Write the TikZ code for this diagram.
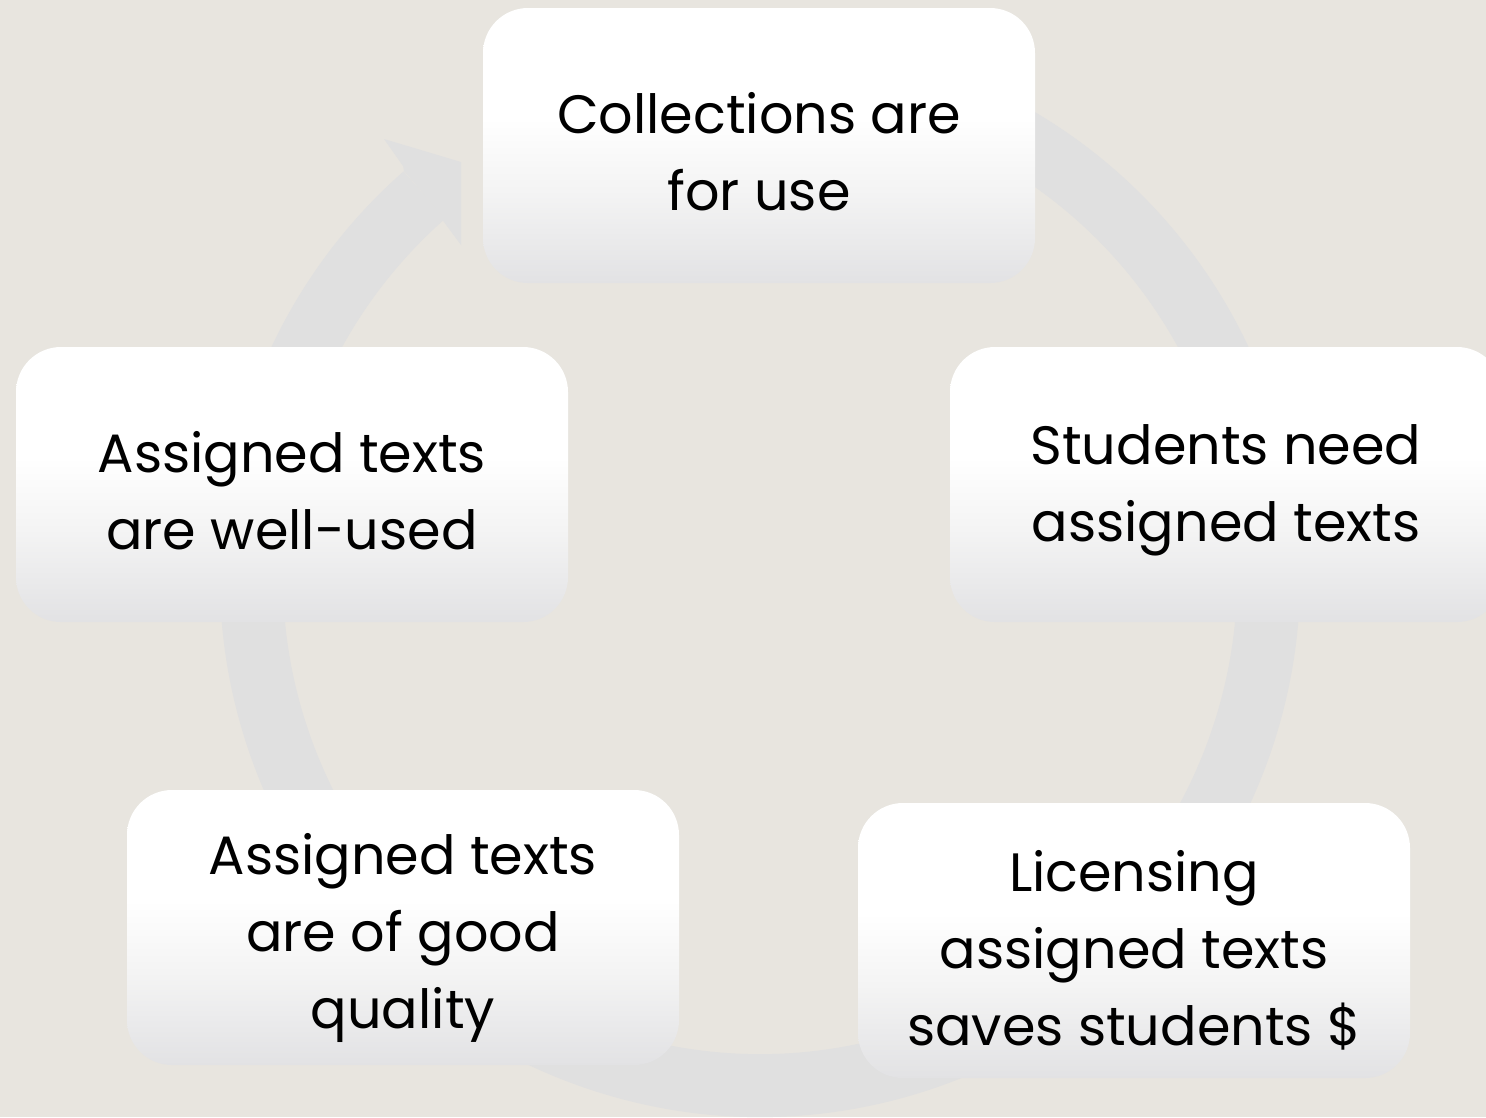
\documentclass[tikz,border=0pt]{standalone}
\usepackage{fontspec}
\setmainfont{Poppins}
\definecolor{bg}{HTML}{E8E5DF}
\definecolor{ringc}{HTML}{E0E0E0}
\definecolor{boxbot}{HTML}{E2E2E4}
\definecolor{boxmid}{HTML}{F4F4F4}
\pgfdeclareverticalshading{boxshade}{100bp}{color(0bp)=(boxbot); color(25bp)=(boxbot); color(42bp)=(boxmid); color(55bp)=(white); color(100bp)=(white)}
\begin{document}
\begin{tikzpicture}[x=1pt,y=-1pt,
  card/.style={rounded corners=45pt, shading=boxshade, minimum width=552pt, minimum height=275pt, inner sep=0pt},
  cardtext/.style={inner sep=0pt, align=center, font=\fontsize{54}{77}\selectfont, text=black, yshift=-6pt},
  ringstyle/.style={draw=ringc, line width=63pt},
  headstyle/.style={fill=ringc}]
\useasboundingbox (0,0) rectangle (1486,1117);
\fill[bg] (0,0) rectangle (1486,1117);
\clip (0,0) rectangle (1486,1117);
\coordinate (c) at (760,577);
\draw[ringstyle] (c) ++(70:508.5pt) arc[start angle=70, end angle=-228.7, radius=508.5pt];
\fill[headstyle] (404,171) -- (403,166) -- (384,139) -- (461,162) -- (461,245) -- (441,218) -- (445,219) -- cycle;
\node[card] (top) at (759,145.5) {};
\node[card] (left) at (292,484.5) {};
\node[card] (right) at (1226,484.5) {};
\node[card] (bl) at (403,927.5) {};
\node[card] (br) at (1134,940.5) {};
\node[cardtext] (toptext) at (top.center) {Collections are\\for use};
\node[cardtext] (lefttext) at (left.center) {Assigned texts\\are well-used};
\node[cardtext] (righttext) at (right.center) {Students need\\assigned texts};
\node[cardtext, yshift=-4pt] (bltext) at (bl.center) {Assigned texts\\are of good\\quality};
\node[cardtext, yshift=-4pt] (brtext) at (br.center) {Licensing\\assigned texts\\saves students \$};
\end{tikzpicture}
\end{document}
